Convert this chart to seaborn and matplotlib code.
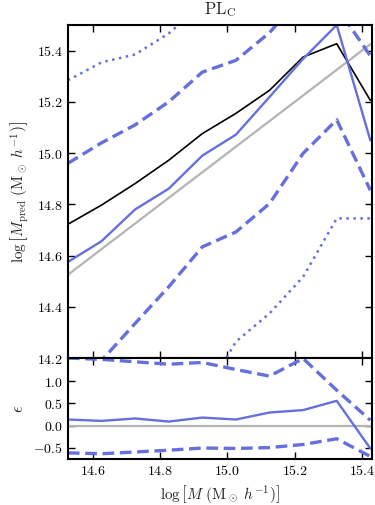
import numpy as np
import pandas as pd
import matplotlib
matplotlib.use('Agg')
import matplotlib.pyplot as plt
from matplotlib.ticker import FuncFormatter, MultipleLocator, FixedLocator
import seaborn as sns

# bin centres, log M
log_m = [14.525, 14.625, 14.725, 14.825, 14.925, 15.025, 15.125, 15.225, 15.325, 15.425]

# top panel: predicted mass
true_mean = [14.722, 14.797, 14.881, 14.972, 15.076, 15.155, 15.245, 15.375, 15.427, 15.206]
pred_med = [14.575, 14.656, 14.78, 14.861, 14.99, 15.072, 15.219, 15.368, 15.50, 15.05]
pred_hi1 = [14.96, 15.04, 15.11, 15.20, 15.316, 15.362, 15.47, 15.62, 15.57, 15.38]
pred_lo1 = [14.10, 14.19, 14.335, 14.478, 14.634, 14.692, 14.803, 14.999, 15.13, 14.855]
pred_hi2 = [15.284, 15.354, 15.385, 15.467, 15.58, 15.65, 15.72, 15.8, 15.85, 15.9]
pred_lo2 = [13.70, 13.80, 13.90, 14.00, 14.04, 14.264, 14.374, 14.517, 14.745, 14.745]

# bottom panel: fractional error
eps_med = [0.136, 0.105, 0.16, 0.09, 0.18, 0.136, 0.295, 0.35, 0.56, -0.52]
eps_hi = [1.53, 1.50, 1.445, 1.39, 1.43, 1.27, 1.12, 1.52, 0.80, 0.12]
eps_lo = [-0.62, -0.64, -0.60, -0.56, -0.51, -0.52, -0.50, -0.43, -0.30, -0.70]
eps_ticks = [-0.5, 0.0, 0.5, 1.0]

blue = '#6670dc'
grey = '#b4b4b4'

sns.set_style('ticks', {'xtick.direction': 'in', 'ytick.direction': 'in'})
plt.rcParams['mathtext.fontset'] = 'cm'
plt.rcParams['font.family'] = ['DejaVu Serif']

fig = plt.figure(figsize=(3.75, 5.05), dpi=100)
ax1 = fig.add_axes([0.181, 0.291, 0.811, 0.6595])
ax2 = fig.add_axes([0.181, 0.091, 0.811, 0.200])

# top panel
sns.lineplot(x=log_m, y=log_m, ax=ax1, color=grey, lw=1.6)
sns.lineplot(x=log_m, y=true_mean, ax=ax1, color='black', lw=1.2)
sns.lineplot(x=log_m, y=pred_med, ax=ax1, color=blue, lw=1.7)
for arr in [pred_hi1, pred_lo1]:
    sns.lineplot(x=log_m, y=arr, ax=ax1, color=blue, lw=2.4).lines[-1].set_dashes((3.5, 1.7))
for arr in [pred_hi2, pred_lo2]:
    sns.lineplot(x=log_m, y=arr, ax=ax1, color=blue, lw=1.8).lines[-1].set_dashes((1.0, 1.8))

# bottom panel
sns.lineplot(x=log_m, y=[0] * len(log_m), ax=ax2, color=grey, lw=1.6)
sns.lineplot(x=log_m, y=eps_med, ax=ax2, color=blue, lw=1.7)
for arr in [eps_hi, eps_lo]:
    sns.lineplot(x=log_m, y=arr, ax=ax2, color=blue, lw=2.4).lines[-1].set_dashes((3.5, 1.7))

fmt = FuncFormatter(lambda v, p: r'$%.1f$' % v)
for ax in [ax1, ax2]:
    ax.set_xlim(14.525, 15.43)
    ax.xaxis.set_major_locator(MultipleLocator(0.2))
    ax.tick_params(which='both', direction='in', top=True, right=True,
                   length=5, width=1, labelsize=10, colors='black')
    for s in ax.spines.values():
        s.set_linewidth(1.5)
        s.set_color('black')
    ax.yaxis.set_major_formatter(fmt)
    ax.xaxis.set_major_formatter(fmt)

ax1.set_ylim(14.2, 15.5)
ax1.yaxis.set_major_locator(MultipleLocator(0.2))
ax1.tick_params(labelbottom=False)
ax1.set_ylabel(r'$\log\left[M_{\rm pred}\ (\mathrm{M}_\odot\ h^{-1})\right]$', fontsize=11)
ax1.set_title(r'$\mathrm{PL_C}$', fontsize=12, pad=8)

ax2.set_ylim(-0.76, 1.53)
ax2.yaxis.set_major_locator(FixedLocator(eps_ticks))
ax2.set_ylabel(r'$\epsilon$', fontsize=12, labelpad=4)
ax2.set_xlabel(r'$\log\left[M\ (\mathrm{M}_\odot\ h^{-1})\right]$', fontsize=11)

fig.savefig('out.png', dpi=100)
